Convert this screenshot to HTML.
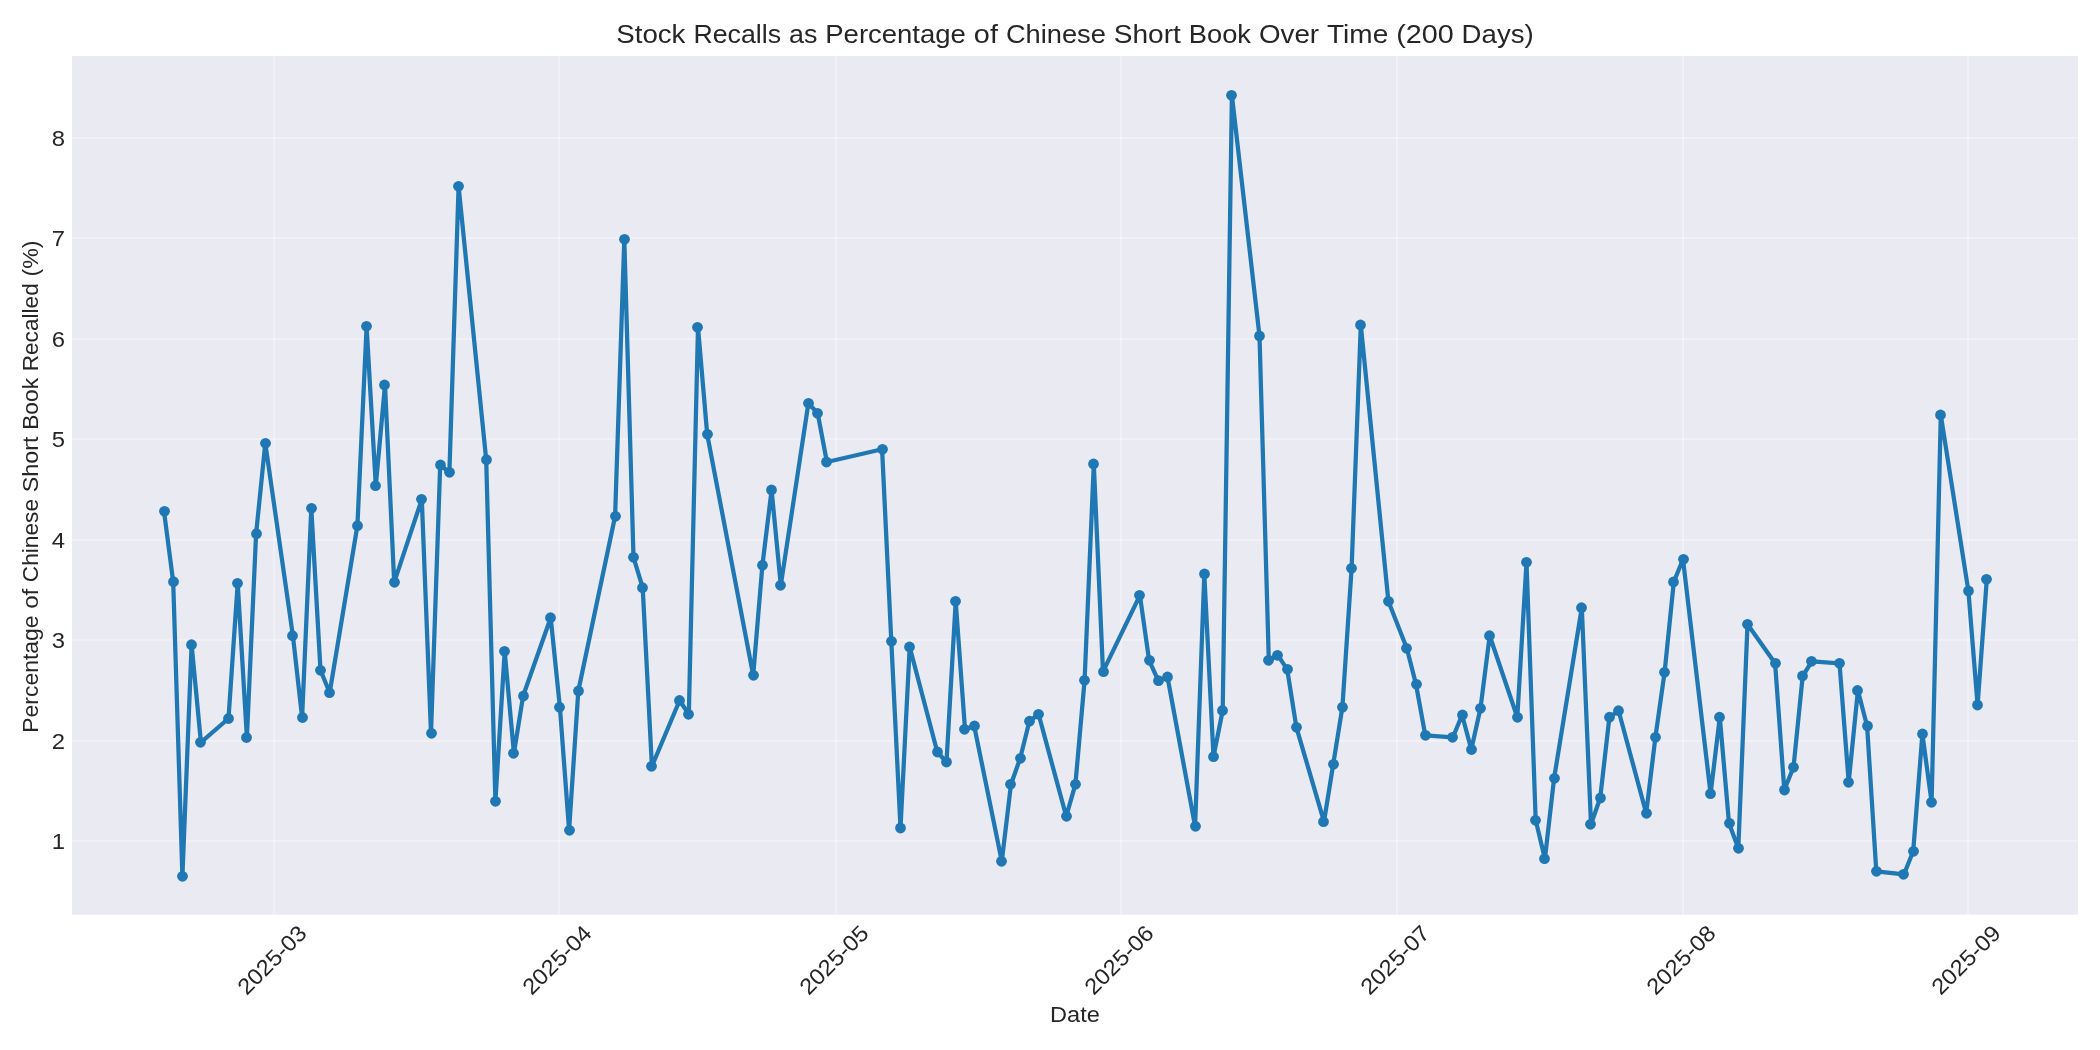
<!DOCTYPE html>
<html><head><meta charset="utf-8"><title>Stock Recalls</title>
<style>
html,body{margin:0;padding:0;background:#fff;}
body{width:2100px;height:1050px;overflow:hidden;font-family:"Liberation Sans",sans-serif;}
svg{display:block;will-change:transform;}
text{font-family:"Liberation Sans",sans-serif;fill:#262626;}
</style></head><body>
<svg width="2100" height="1050" viewBox="0 0 2100 1050">
<rect x="0" y="0" width="2100" height="1050" fill="#ffffff"/>
<rect x="72" y="56" width="2006" height="858.75" fill="#eaeaf2"/>
<g stroke="#ffffff" stroke-opacity="0.3" stroke-width="2" fill="none" shape-rendering="crispEdges">
<line x1="72" x2="2078" y1="841.00" y2="841.00"/><line x1="72" x2="2078" y1="741.00" y2="741.00"/><line x1="72" x2="2078" y1="640.00" y2="640.00"/><line x1="72" x2="2078" y1="540.00" y2="540.00"/><line x1="72" x2="2078" y1="439.00" y2="439.00"/><line x1="72" x2="2078" y1="339.00" y2="339.00"/><line x1="72" x2="2078" y1="238.00" y2="238.00"/><line x1="72" x2="2078" y1="138.00" y2="138.00"/><line x1="274.00" x2="274.00" y1="56" y2="914.75"/><line x1="559.00" x2="559.00" y1="56" y2="914.75"/><line x1="836.00" x2="836.00" y1="56" y2="914.75"/><line x1="1121.00" x2="1121.00" y1="56" y2="914.75"/><line x1="1397.00" x2="1397.00" y1="56" y2="914.75"/><line x1="1683.00" x2="1683.00" y1="56" y2="914.75"/><line x1="1968.00" x2="1968.00" y1="56" y2="914.75"/>
</g>
<polyline points="164.0,511.3 173.2,581.7 182.4,876.3 191.6,644.7 200.9,742.3 228.5,718.5 237.7,583.3 246.9,737.5 256.1,533.7 265.3,443.3 292.9,635.7 302.1,717.5 311.3,508.3 320.5,670.3 329.7,692.7 357.4,525.7 366.6,326.3 375.8,485.7 385.0,385.0 394.2,582.3 421.8,499.3 431.0,733.3 440.2,465.0 449.4,472.3 458.6,186.3 486.2,459.7 495.4,801.3 504.7,651.3 513.9,753.3 523.1,696.0 550.7,617.7 559.9,707.2 569.1,830.3 578.3,691.0 615.1,516.3 624.3,239.3 633.5,557.3 642.7,587.7 651.9,766.3 679.6,700.5 688.8,714.3 698.0,327.3 707.2,434.3 753.2,675.3 762.4,565.2 771.6,490.0 780.8,585.3 808.4,403.3 817.7,413.3 826.9,462.0 882.1,449.3 891.3,641.3 900.5,828.0 909.7,647.0 937.3,752.0 946.5,762.0 955.7,601.3 965.0,729.3 974.2,726.0 1001.8,861.3 1011.0,784.3 1020.2,758.3 1029.4,721.2 1038.6,714.3 1066.2,816.3 1075.4,784.3 1084.6,680.3 1093.8,464.0 1103.0,671.7 1139.9,595.3 1149.1,660.3 1158.3,680.7 1167.5,677.0 1195.1,826.3 1204.3,574.0 1213.5,756.7 1222.7,710.5 1231.9,95.3 1259.5,336.0 1268.8,660.3 1278.0,655.3 1287.2,669.3 1296.4,727.3 1324.0,821.7 1333.2,764.3 1342.4,707.2 1351.6,568.3 1360.8,325.0 1388.4,601.3 1406.8,648.3 1416.0,684.3 1425.3,735.3 1452.9,737.3 1462.1,715.0 1471.3,749.5 1480.5,708.3 1489.7,635.7 1517.3,717.3 1526.5,562.3 1535.7,820.3 1544.9,858.7 1554.1,778.3 1581.8,607.7 1591.0,824.3 1600.2,798.0 1609.4,717.2 1618.6,710.7 1646.2,813.3 1655.4,737.3 1664.6,672.3 1673.8,582.0 1683.0,559.3 1710.6,793.7 1719.8,717.2 1729.0,823.3 1738.3,848.3 1747.5,624.3 1775.1,663.3 1784.3,790.0 1793.5,767.3 1802.7,676.0 1811.9,661.3 1839.5,663.3 1848.7,782.3 1857.9,690.5 1867.1,726.0 1876.3,871.3 1904.0,874.3 1913.2,851.3 1922.4,734.0 1931.6,802.3 1940.8,415.0 1968.4,591.0 1977.6,705.0 1986.8,579.3" fill="none" stroke="#1f77b4" stroke-width="4.25" stroke-linejoin="round" stroke-linecap="butt"/>
<g fill="#1f77b4"><circle cx="164.5" cy="511.3" r="5.4"/><circle cx="173.5" cy="581.7" r="5.4"/><circle cx="182.5" cy="876.3" r="5.4"/><circle cx="191.5" cy="644.7" r="5.4"/><circle cx="200.5" cy="742.3" r="5.4"/><circle cx="228.5" cy="718.5" r="5.4"/><circle cx="237.5" cy="583.3" r="5.4"/><circle cx="246.5" cy="737.5" r="5.4"/><circle cx="256.5" cy="533.7" r="5.4"/><circle cx="265.5" cy="443.3" r="5.4"/><circle cx="292.5" cy="635.7" r="5.4"/><circle cx="302.5" cy="717.5" r="5.4"/><circle cx="311.5" cy="508.3" r="5.4"/><circle cx="320.5" cy="670.3" r="5.4"/><circle cx="329.5" cy="692.7" r="5.4"/><circle cx="357.5" cy="525.7" r="5.4"/><circle cx="366.5" cy="326.3" r="5.4"/><circle cx="375.5" cy="485.7" r="5.4"/><circle cx="384.5" cy="385.0" r="5.4"/><circle cx="394.5" cy="582.3" r="5.4"/><circle cx="421.5" cy="499.3" r="5.4"/><circle cx="431.5" cy="733.3" r="5.4"/><circle cx="440.5" cy="465.0" r="5.4"/><circle cx="449.5" cy="472.3" r="5.4"/><circle cx="458.5" cy="186.3" r="5.4"/><circle cx="486.5" cy="459.7" r="5.4"/><circle cx="495.5" cy="801.3" r="5.4"/><circle cx="504.5" cy="651.3" r="5.4"/><circle cx="513.5" cy="753.3" r="5.4"/><circle cx="523.5" cy="696.0" r="5.4"/><circle cx="550.5" cy="617.7" r="5.4"/><circle cx="559.5" cy="707.2" r="5.4"/><circle cx="569.5" cy="830.3" r="5.4"/><circle cx="578.5" cy="691.0" r="5.4"/><circle cx="615.5" cy="516.3" r="5.4"/><circle cx="624.5" cy="239.3" r="5.4"/><circle cx="633.5" cy="557.3" r="5.4"/><circle cx="642.5" cy="587.7" r="5.4"/><circle cx="651.5" cy="766.3" r="5.4"/><circle cx="679.5" cy="700.5" r="5.4"/><circle cx="688.5" cy="714.3" r="5.4"/><circle cx="697.5" cy="327.3" r="5.4"/><circle cx="707.5" cy="434.3" r="5.4"/><circle cx="753.5" cy="675.3" r="5.4"/><circle cx="762.5" cy="565.2" r="5.4"/><circle cx="771.5" cy="490.0" r="5.4"/><circle cx="780.5" cy="585.3" r="5.4"/><circle cx="808.5" cy="403.3" r="5.4"/><circle cx="817.5" cy="413.3" r="5.4"/><circle cx="826.5" cy="462.0" r="5.4"/><circle cx="882.5" cy="449.3" r="5.4"/><circle cx="891.5" cy="641.3" r="5.4"/><circle cx="900.5" cy="828.0" r="5.4"/><circle cx="909.5" cy="647.0" r="5.4"/><circle cx="937.5" cy="752.0" r="5.4"/><circle cx="946.5" cy="762.0" r="5.4"/><circle cx="955.5" cy="601.3" r="5.4"/><circle cx="964.5" cy="729.3" r="5.4"/><circle cx="974.5" cy="726.0" r="5.4"/><circle cx="1001.5" cy="861.3" r="5.4"/><circle cx="1010.5" cy="784.3" r="5.4"/><circle cx="1020.5" cy="758.3" r="5.4"/><circle cx="1029.5" cy="721.2" r="5.4"/><circle cx="1038.5" cy="714.3" r="5.4"/><circle cx="1066.5" cy="816.3" r="5.4"/><circle cx="1075.5" cy="784.3" r="5.4"/><circle cx="1084.5" cy="680.3" r="5.4"/><circle cx="1093.5" cy="464.0" r="5.4"/><circle cx="1103.5" cy="671.7" r="5.4"/><circle cx="1139.5" cy="595.3" r="5.4"/><circle cx="1149.5" cy="660.3" r="5.4"/><circle cx="1158.5" cy="680.7" r="5.4"/><circle cx="1167.5" cy="677.0" r="5.4"/><circle cx="1195.5" cy="826.3" r="5.4"/><circle cx="1204.5" cy="574.0" r="5.4"/><circle cx="1213.5" cy="756.7" r="5.4"/><circle cx="1222.5" cy="710.5" r="5.4"/><circle cx="1231.5" cy="95.3" r="5.4"/><circle cx="1259.5" cy="336.0" r="5.4"/><circle cx="1268.5" cy="660.3" r="5.4"/><circle cx="1277.5" cy="655.3" r="5.4"/><circle cx="1287.5" cy="669.3" r="5.4"/><circle cx="1296.5" cy="727.3" r="5.4"/><circle cx="1323.5" cy="821.7" r="5.4"/><circle cx="1333.5" cy="764.3" r="5.4"/><circle cx="1342.5" cy="707.2" r="5.4"/><circle cx="1351.5" cy="568.3" r="5.4"/><circle cx="1360.5" cy="325.0" r="5.4"/><circle cx="1388.5" cy="601.3" r="5.4"/><circle cx="1406.5" cy="648.3" r="5.4"/><circle cx="1416.5" cy="684.3" r="5.4"/><circle cx="1425.5" cy="735.3" r="5.4"/><circle cx="1452.5" cy="737.3" r="5.4"/><circle cx="1462.5" cy="715.0" r="5.4"/><circle cx="1471.5" cy="749.5" r="5.4"/><circle cx="1480.5" cy="708.3" r="5.4"/><circle cx="1489.5" cy="635.7" r="5.4"/><circle cx="1517.5" cy="717.3" r="5.4"/><circle cx="1526.5" cy="562.3" r="5.4"/><circle cx="1535.5" cy="820.3" r="5.4"/><circle cx="1544.5" cy="858.7" r="5.4"/><circle cx="1554.5" cy="778.3" r="5.4"/><circle cx="1581.5" cy="607.7" r="5.4"/><circle cx="1590.5" cy="824.3" r="5.4"/><circle cx="1600.5" cy="798.0" r="5.4"/><circle cx="1609.5" cy="717.2" r="5.4"/><circle cx="1618.5" cy="710.7" r="5.4"/><circle cx="1646.5" cy="813.3" r="5.4"/><circle cx="1655.5" cy="737.3" r="5.4"/><circle cx="1664.5" cy="672.3" r="5.4"/><circle cx="1673.5" cy="582.0" r="5.4"/><circle cx="1683.5" cy="559.3" r="5.4"/><circle cx="1710.5" cy="793.7" r="5.4"/><circle cx="1719.5" cy="717.2" r="5.4"/><circle cx="1729.5" cy="823.3" r="5.4"/><circle cx="1738.5" cy="848.3" r="5.4"/><circle cx="1747.5" cy="624.3" r="5.4"/><circle cx="1775.5" cy="663.3" r="5.4"/><circle cx="1784.5" cy="790.0" r="5.4"/><circle cx="1793.5" cy="767.3" r="5.4"/><circle cx="1802.5" cy="676.0" r="5.4"/><circle cx="1811.5" cy="661.3" r="5.4"/><circle cx="1839.5" cy="663.3" r="5.4"/><circle cx="1848.5" cy="782.3" r="5.4"/><circle cx="1857.5" cy="690.5" r="5.4"/><circle cx="1867.5" cy="726.0" r="5.4"/><circle cx="1876.5" cy="871.3" r="5.4"/><circle cx="1903.5" cy="874.3" r="5.4"/><circle cx="1913.5" cy="851.3" r="5.4"/><circle cx="1922.5" cy="734.0" r="5.4"/><circle cx="1931.5" cy="802.3" r="5.4"/><circle cx="1940.5" cy="415.0" r="5.4"/><circle cx="1968.5" cy="591.0" r="5.4"/><circle cx="1977.5" cy="705.0" r="5.4"/><circle cx="1986.5" cy="579.3" r="5.4"/></g>
<g>
<text y="43" font-size="25.8" xml:space="preserve"><tspan x="616.25" textLength="69.20" lengthAdjust="spacingAndGlyphs">Stock</tspan> <tspan x="693.41" textLength="87.62" lengthAdjust="spacingAndGlyphs">Recalls</tspan> <tspan x="788.98" textLength="28.34" lengthAdjust="spacingAndGlyphs">as</tspan> <tspan x="825.28" textLength="140.62" lengthAdjust="spacingAndGlyphs">Percentage</tspan> <tspan x="973.86" textLength="24.09" lengthAdjust="spacingAndGlyphs">of</tspan> <tspan x="1005.91" textLength="99.88" lengthAdjust="spacingAndGlyphs">Chinese</tspan> <tspan x="1113.73" textLength="67.09" lengthAdjust="spacingAndGlyphs">Short</tspan> <tspan x="1188.78" textLength="62.23" lengthAdjust="spacingAndGlyphs">Book</tspan> <tspan x="1258.97" textLength="60.12" lengthAdjust="spacingAndGlyphs">Over</tspan> <tspan x="1327.05" textLength="61.19" lengthAdjust="spacingAndGlyphs">Time</tspan> <tspan x="1396.19" textLength="57.47" lengthAdjust="spacingAndGlyphs">(200</tspan> <tspan x="1461.61" textLength="72.14" lengthAdjust="spacingAndGlyphs">Days)</tspan></text>
<text x="64.9" y="849.0" font-size="22.4" text-anchor="end" textLength="13.25" lengthAdjust="spacingAndGlyphs">1</text>
<text x="64.9" y="749.0" font-size="22.4" text-anchor="end" textLength="13.25" lengthAdjust="spacingAndGlyphs">2</text>
<text x="64.9" y="648.0" font-size="22.4" text-anchor="end" textLength="13.25" lengthAdjust="spacingAndGlyphs">3</text>
<text x="64.9" y="548.0" font-size="22.4" text-anchor="end" textLength="13.25" lengthAdjust="spacingAndGlyphs">4</text>
<text x="64.9" y="447.0" font-size="22.4" text-anchor="end" textLength="13.25" lengthAdjust="spacingAndGlyphs">5</text>
<text x="64.9" y="347.0" font-size="22.4" text-anchor="end" textLength="13.25" lengthAdjust="spacingAndGlyphs">6</text>
<text x="64.9" y="246.0" font-size="22.4" text-anchor="end" textLength="13.25" lengthAdjust="spacingAndGlyphs">7</text>
<text x="64.9" y="146.0" font-size="22.4" text-anchor="end" textLength="13.25" lengthAdjust="spacingAndGlyphs">8</text>
<text transform="translate(271.9,959.8) rotate(-45)" x="-43.5" y="7.8" font-size="22.4" textLength="87" lengthAdjust="spacingAndGlyphs">2025-03</text>
<text transform="translate(556.9,959.8) rotate(-45)" x="-43.5" y="7.8" font-size="22.4" textLength="87" lengthAdjust="spacingAndGlyphs">2025-04</text>
<text transform="translate(833.9,959.8) rotate(-45)" x="-43.5" y="7.8" font-size="22.4" textLength="87" lengthAdjust="spacingAndGlyphs">2025-05</text>
<text transform="translate(1118.9,959.8) rotate(-45)" x="-43.5" y="7.8" font-size="22.4" textLength="87" lengthAdjust="spacingAndGlyphs">2025-06</text>
<text transform="translate(1394.9,959.8) rotate(-45)" x="-43.5" y="7.8" font-size="22.4" textLength="87" lengthAdjust="spacingAndGlyphs">2025-07</text>
<text transform="translate(1680.9,959.8) rotate(-45)" x="-43.5" y="7.8" font-size="22.4" textLength="87" lengthAdjust="spacingAndGlyphs">2025-08</text>
<text transform="translate(1965.9,959.8) rotate(-45)" x="-43.5" y="7.8" font-size="22.4" textLength="87" lengthAdjust="spacingAndGlyphs">2025-09</text>
<text x="1050.1" y="1021.7" font-size="21.2" textLength="49.8" lengthAdjust="spacingAndGlyphs">Date</text>
<text transform="translate(37.5,486.6) rotate(-90)" y="0" font-size="21.2"><tspan x="-246.08" textLength="117.17" lengthAdjust="spacingAndGlyphs">Percentage</tspan> <tspan x="-122.28" textLength="20.08" lengthAdjust="spacingAndGlyphs">of</tspan> <tspan x="-95.58" textLength="83.20" lengthAdjust="spacingAndGlyphs">Chinese</tspan> <tspan x="-5.75" textLength="55.91" lengthAdjust="spacingAndGlyphs">Short</tspan> <tspan x="56.78" textLength="51.84" lengthAdjust="spacingAndGlyphs">Book</tspan> <tspan x="115.25" textLength="88.16" lengthAdjust="spacingAndGlyphs">Recalled</tspan> <tspan x="210.03" textLength="36.05" lengthAdjust="spacingAndGlyphs">(%)</tspan></text>
</g>
</svg>
</body></html>
